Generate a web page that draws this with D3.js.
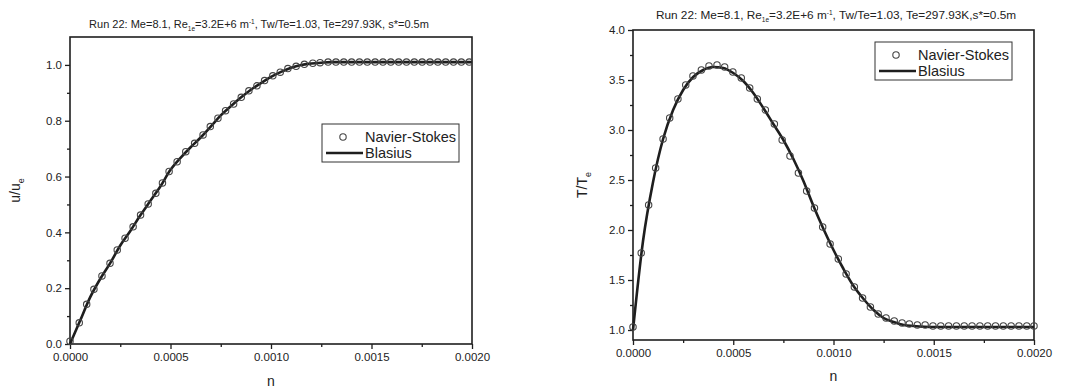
<!DOCTYPE html>
<html><head><meta charset="utf-8">
<script src="https://cdn.jsdelivr.net/npm/d3@7"></script>
<style>body{margin:0;background:#fff}svg{display:block}text{font-family:"Liberation Sans",Arial,sans-serif;fill:#222}</style>
</head><body>
<svg id="c" width="1073" height="388"></svg>
<script>
// ---- data ----
const xTicks = [0, 0.0005, 0.001, 0.0015, 0.002];
const uTicks = [0.0, 0.2, 0.4, 0.6, 0.8, 1.0];
const tTicks = [1.0, 1.5, 2.0, 2.5, 3.0, 3.5, 4.0];

// left: u/ue, Navier-Stokes points
const nsU_n = [0, 0.000046, 0.000083, 0.000119, 0.000159, 0.000199, 0.000235, 0.000274, 0.000314, 0.000351, 0.000389, 0.000427, 0.00046,
  0.000493, 0.000533, 0.000576, 0.00062, 0.000662, 0.000698, 0.000736, 0.000774, 0.000814, 0.000852, 0.00089, 0.00093, 0.000968,
  0.001009, 0.001046, 0.001084, 0.001125, 0.001166, 0.001208, 0.001244, 0.001284, 0.001323, 0.001362, 0.001401, 0.00144, 0.001479,
  0.001518, 0.001557, 0.001596, 0.001635, 0.001674, 0.001713, 0.001752, 0.001791, 0.00183, 0.001869, 0.001908, 0.001947, 0.001986];
const nsU_v = [0.01, 0.076, 0.142, 0.196, 0.244, 0.289, 0.337, 0.379, 0.420, 0.462, 0.502, 0.540, 0.577,
  0.618, 0.653, 0.689, 0.719, 0.749, 0.779, 0.809, 0.836, 0.860, 0.884, 0.907, 0.925, 0.944,
  0.961, 0.974, 0.987, 0.995, 1.002, 1.006, 1.008, 1.010, 1.010, 1.010, 1.010, 1.010, 1.010,
  1.010, 1.010, 1.010, 1.010, 1.010, 1.010, 1.010, 1.010, 1.010, 1.010, 1.010, 1.010, 1.010];
// left: u/ue, Blasius line
const blU_n = [0, 0.00005, 0.0001, 0.00015, 0.0002, 0.00025, 0.0003, 0.00035, 0.0004, 0.00045, 0.0005, 0.00055, 0.0006, 0.00065,
  0.0007, 0.00075, 0.0008, 0.00085, 0.0009, 0.00095, 0.001, 0.00105, 0.0011, 0.00115, 0.0012, 0.00125, 0.0013, 0.0014, 0.0016, 0.0018, 0.002];
const blU_v = [0, 0.083, 0.167, 0.233, 0.290, 0.353, 0.405, 0.461, 0.513, 0.565, 0.624, 0.667, 0.705, 0.740,
  0.779, 0.819, 0.852, 0.883, 0.911, 0.935, 0.957, 0.975, 0.990, 1.000, 1.005, 1.008, 1.010, 1.010, 1.010, 1.010, 1.010];

// right: T/Te, Navier-Stokes points
const nsT_n = [0, 0.000041, 0.000078, 0.000113, 0.00015, 0.000183, 0.000224, 0.000263, 0.000299, 0.000341, 0.000379, 0.000419,
  0.000457, 0.000498, 0.00054, 0.000582, 0.00062, 0.00066, 0.000705, 0.000744, 0.000783, 0.000825, 0.000866, 0.000905, 0.000946,
  0.000983, 0.001024, 0.001063, 0.001104, 0.001145, 0.001184, 0.001223, 0.001262, 0.001303, 0.001342, 0.001378, 0.001418, 0.001457,
  0.001496, 0.001535, 0.001574, 0.001613, 0.001652, 0.001691, 0.00173, 0.001769, 0.001808, 0.001847, 0.001886, 0.001925, 0.001964, 0.002];
const nsT_v = [1.03, 1.77, 2.25, 2.62, 2.91, 3.12, 3.31, 3.45, 3.54, 3.60, 3.64, 3.65,
  3.63, 3.58, 3.52, 3.42, 3.31, 3.20, 3.06, 2.90, 2.74, 2.57, 2.39, 2.22, 2.03,
  1.86, 1.71, 1.56, 1.43, 1.32, 1.23, 1.16, 1.12, 1.09, 1.07, 1.06, 1.05, 1.05,
  1.04, 1.04, 1.04, 1.04, 1.04, 1.04, 1.04, 1.04, 1.04, 1.04, 1.04, 1.04, 1.04, 1.04];
// right: T/Te, Blasius line
const blT_n = [0, 0.00005, 0.0001, 0.00015, 0.0002, 0.00025, 0.0003, 0.00035, 0.0004, 0.00045, 0.0005, 0.00055, 0.0006, 0.00065,
  0.0007, 0.00075, 0.0008, 0.00085, 0.0009, 0.00095, 0.001, 0.00105, 0.0011, 0.00115, 0.0012, 0.00125, 0.0013, 0.00135, 0.0014, 0.0015, 0.0017, 0.002];
const blT_v = [1.0, 1.89, 2.48, 2.91, 3.20, 3.40, 3.53, 3.60, 3.63, 3.62, 3.57, 3.49, 3.37, 3.22,
  3.06, 2.90, 2.71, 2.49, 2.24, 2.01, 1.80, 1.61, 1.44, 1.31, 1.20, 1.12, 1.08, 1.05, 1.04, 1.03, 1.03, 1.03];

const svg = d3.select("#c");
const ink = "#1e1e1e";

function panel(o) {
  const x = d3.scaleLinear().domain([0, 0.002]).range([o.x0, o.x1]);
  const y = d3.scaleLinear().domain(o.yDom).range([o.y1, o.y0]);
  const g = svg.append("g");
  // frame
  g.append("rect").attr("x", o.x0).attr("y", o.y0).attr("width", o.x1 - o.x0).attr("height", o.y1 - o.y0)
    .attr("fill", "none").attr("stroke", ink).attr("stroke-width", 1.6);
  // x axis
  const xa = g.append("g").attr("transform", `translate(0,${o.y1})`)
    .call(d3.axisBottom(x).tickValues(o.xTicks).tickFormat(d3.format(".4f")).tickSize(5).tickPadding(4));
  const xm = g.append("g").attr("transform", `translate(0,${o.y1})`)
    .call(d3.axisBottom(x).tickValues([0.00025, 0.00075, 0.00125, 0.00175]).tickFormat("").tickSize(3));
  const ya = g.append("g").attr("transform", `translate(${o.x0},0)`)
    .call(d3.axisLeft(y).tickValues(o.yTicks).tickFormat(d3.format(".1f")).tickSize(5).tickPadding(3));
  const ym = g.append("g").attr("transform", `translate(${o.x0},0)`)
    .call(d3.axisLeft(y).tickValues(o.yMinor).tickFormat("").tickSize(3));
  [xa, xm, ya, ym].forEach(a => {
    a.select(".domain").remove();
    a.selectAll("line").attr("stroke", ink).attr("stroke-width", 1.3);
    a.selectAll("text").style("font-family", '"Liberation Sans",Arial,sans-serif').style("font-size", "11.5px").attr("fill", "#333");
  });
  // Blasius line
  const line = d3.line().x((d, i) => x(o.bl_n[i])).y(d => y(d)).curve(d3.curveMonotoneX);
  g.append("path").datum(o.bl_v).attr("d", line).attr("fill", "none").attr("stroke", ink).attr("stroke-width", 2.6);
  // NS circles
  g.selectAll("circle.ns").data(o.ns_v).join("circle").attr("class", "ns")
    .attr("cx", (d, i) => x(o.ns_n[i])).attr("cy", d => y(d)).attr("r", 3.2)
    .attr("fill", "none").attr("stroke", "#444").attr("stroke-width", 1.1);
  // title
  const fs = o.titleFs;
  const t = g.append("text").attr("x", o.titleX).attr("y", o.titleY).attr("text-anchor", "middle").style("font-size", fs + "px").attr("fill", "#333");
  t.append("tspan").text("Run 22: Me=8.1, Re");
  t.append("tspan").text("1e").style("font-size", "6.5px").attr("dy", 3);
  t.append("tspan").text("=3.2E+6 m").attr("dy", -3);
  t.append("tspan").text("-1").style("font-size", "6.5px").attr("dy", -4);
  t.append("tspan").text(o.titleRest).attr("dy", 4);
  // x label
  g.append("text").attr("x", (o.x0 + o.x1) / 2).attr("y", o.xlabY).attr("text-anchor", "middle").style("font-size", "14px").attr("fill", "#333").text("n");
  // y label
  const yl = g.append("text").attr("transform", `translate(${o.ylabX},${(o.y0 + o.y1) / 2}) rotate(-90)`)
    .attr("text-anchor", "middle").style("font-size", "14px").attr("fill", "#333");
  yl.append("tspan").text(o.ylab);
  yl.append("tspan").text("e").style("font-size", "9px").attr("dy", 4);
  // legend
  const L = o.leg;
  g.append("rect").attr("x", L.x).attr("y", L.y).attr("width", 137).attr("height", 38)
    .attr("fill", "#fff").attr("stroke", "#333").attr("stroke-width", 1);
  g.append("circle").attr("cx", L.x + 21).attr("cy", L.y + 13).attr("r", 3.2).attr("fill", "none").attr("stroke", "#444").attr("stroke-width", 1.1);
  g.append("line").attr("x1", L.x + 4).attr("x2", L.x + 41).attr("y1", L.y + 29).attr("y2", L.y + 29).attr("stroke", ink).attr("stroke-width", 2.6);
  g.append("text").attr("x", L.x + 43).attr("y", L.y + 18).style("font-size", "14.5px").attr("fill", "#222").text("Navier-Stokes");
  g.append("text").attr("x", L.x + 43).attr("y", L.y + 34).style("font-size", "14.5px").attr("fill", "#222").text("Blasius");
}

panel({x0: 70, x1: 472, y0: 37, y1: 344, yDom: [0, 1.1], xTicks: xTicks, yTicks: uTicks,
  yMinor: [0.1, 0.3, 0.5, 0.7, 0.9],
  ns_n: nsU_n, ns_v: nsU_v, bl_n: blU_n, bl_v: blU_v,
  titleX: 259, titleY: 28, titleFs: 11, titleRest: ", Tw/Te=1.03, Te=297.93K, s*=0.5m",
  xlabY: 386, ylabX: 20, ylab: "u/u", leg: {x: 322, y: 124}});

panel({x0: 633, x1: 1034, y0: 30, y1: 340, yDom: [0.9, 4.0], xTicks: xTicks, yTicks: tTicks,
  yMinor: [1.25, 1.75, 2.25, 2.75, 3.25, 3.75],
  ns_n: nsT_n, ns_v: nsT_v, bl_n: blT_n, bl_v: blT_v,
  titleX: 836, titleY: 19, titleFs: 11.8, titleRest: ", Tw/Te=1.03, Te=297.93K,s*=0.5m",
  xlabY: 381, ylabX: 587, ylab: "T/T", leg: {x: 875, y: 42}});
</script>
</body></html>
